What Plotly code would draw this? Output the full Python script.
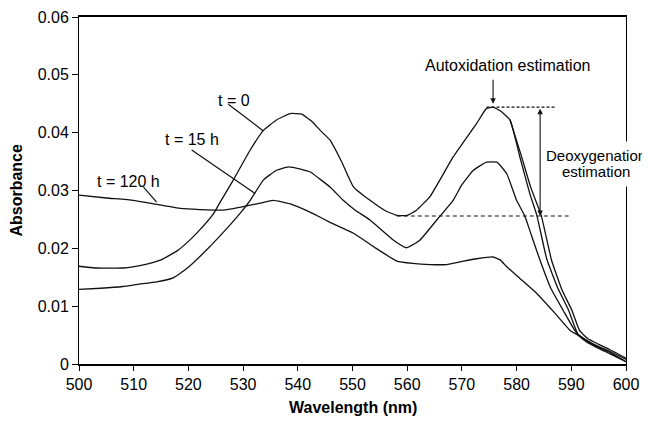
import plotly.graph_objects as go

# ---- data ----
wl_t0 = [500, 503, 508, 512, 515, 518, 520, 522, 524.6, 526, 528.2, 531.3, 533.7, 536.1, 538.6,
         540.7, 542.5, 544.1, 545.9, 548, 550.2, 553.2, 556, 558.1, 560, 561.7, 564.2, 568.4,
         572.7, 574.5, 575.7, 577, 578.8, 580.6, 582.4, 583.7, 585.5, 587.5, 589.5, 591.2,
         593, 595, 597, 600]
abs_t0 = [0.0169, 0.0166, 0.0166, 0.0172, 0.0180, 0.0196, 0.0212, 0.0231, 0.0260, 0.0283, 0.0318,
          0.0370, 0.0404, 0.0422, 0.0433, 0.0432, 0.0420, 0.0404, 0.0387, 0.0350, 0.0306, 0.0283,
          0.0265, 0.0257, 0.0257, 0.0266, 0.0290, 0.0358, 0.0416, 0.0442, 0.0444, 0.0438, 0.0422,
          0.0358, 0.0295, 0.0257, 0.0182, 0.0132, 0.0093, 0.0052, 0.0040, 0.0030, 0.0022, 0.0008]

wl_t0b = [578.8, 580.8, 582.6, 584.5, 586.4, 588.3, 590.1, 591.5, 593, 595, 597, 600]
abs_t0b = [0.0422, 0.0362, 0.0305, 0.0257, 0.0179, 0.0128, 0.0093, 0.0058, 0.0044, 0.0034,
           0.0025, 0.0010]

wl_t15 = [500, 504, 508, 511, 514.2, 517.2, 519.7, 523.3, 527, 529.4, 531.3, 533.7, 536.1, 538.3,
          540.5, 542.3, 544, 545.9, 548.3, 550.5, 553.2, 557.5, 559.9, 562.3, 565.4, 568.4, 570,
          572.1, 574.5, 576.4, 578.2, 580.0, 581.5, 582.8, 584.3, 586.3, 588.5, 590.5, 591.5,
          593, 595, 597, 600]
abs_t15 = [0.0129, 0.0131, 0.0134, 0.0138, 0.0142, 0.0149, 0.0165, 0.0197, 0.0234, 0.0260, 0.0283,
           0.0318, 0.0335, 0.0341, 0.0337, 0.0332, 0.0320, 0.0306, 0.0283, 0.0266, 0.0249, 0.0214,
           0.0201, 0.0214, 0.0249, 0.0283, 0.0310, 0.0335, 0.0349, 0.0349, 0.0329, 0.0283, 0.0256,
           0.0220, 0.0179, 0.0130, 0.0093, 0.0060, 0.0048, 0.0037, 0.0027, 0.0018, 0.0004]

wl_t120 = [500, 505, 509.9, 513.6, 516, 518.5, 522.1, 526.4, 529.4, 531.5, 533.1, 535.5, 538.6,
           540.5, 542.8, 545.9, 550.2, 554, 558.1, 561, 564.2, 567.2, 570.3, 572.7, 575.7, 577,
           578.2, 580.6, 583.7, 587, 589.8, 591.2, 594, 597, 600]
abs_t120 = [0.0292, 0.0287, 0.0283, 0.0277, 0.0273, 0.0269, 0.0267, 0.0266, 0.0271, 0.0275, 0.0278,
            0.0283, 0.0277, 0.0270, 0.0260, 0.0245, 0.0226, 0.0202, 0.0178, 0.0174, 0.0172, 0.0172,
            0.0178, 0.0182, 0.0185, 0.0180, 0.0168, 0.0148, 0.0122, 0.0088, 0.0058, 0.0050, 0.0033,
            0.0020, 0.0004]

x_ticks = [500, 510, 520, 530, 540, 550, 560, 570, 580, 590, 600]
y_ticks = [0, 0.01, 0.02, 0.03, 0.04, 0.05, 0.06]
y_ticktext = ["0", "0.01", "0.02", "0.03", "0.04", "0.05", "0.06"]
x_title = "Wavelength (nm)"
y_title = "Absorbance"

# labels: text, text position, pointer start, pointer end
curve_labels = ["t = 0", "t = 15 h", "t = 120 h"]
label_x = [528.4, 520.7, 509.0]
label_y = [0.0455, 0.0389, 0.0316]
ptr_x0 = [527.3, 520.6, 511.8]
ptr_y0 = [0.0449, 0.0370, 0.0306]
ptr_x1 = [533.7, 532.2, 514.2]
ptr_y1 = [0.0403, 0.0295, 0.0280]

# estimation markers
peak_level = 0.0444
base_level = 0.0256
peak_line_x = [574.5, 587.0]
base_line_x = [558.1, 589.5]
deoxy_arrow_x = 584.3
autox_arrow_x = 575.7
autox_arrow_y = [0.0494, 0.0450]
autox_text = ("Autoxidation estimation", 578.3, 0.0516)
deoxy_text = [("Deoxygenation", 594.5, 0.0361), ("estimation", 594.6, 0.0332)]
deoxy_box_center = (594.6, 0.03455)

FONT = "Liberation Sans, Arial, sans-serif"
FS = 16
LC = "#111111"

fig = go.Figure()
for xs, ys in [(wl_t0, abs_t0), (wl_t0b, abs_t0b), (wl_t15, abs_t15), (wl_t120, abs_t120)]:
    fig.add_trace(go.Scatter(x=xs, y=ys, mode="lines",
                             line=dict(color=LC, width=1.3, shape="spline", smoothing=0.4),
                             showlegend=False, hoverinfo="skip"))

# horizontal reference lines
fig.add_trace(go.Scatter(x=peak_line_x, y=[peak_level, peak_level], mode="lines",
                         line=dict(color=LC, width=1.3, dash="3px,2px"),
                         showlegend=False, hoverinfo="skip"))
fig.add_trace(go.Scatter(x=base_line_x, y=[base_level, base_level], mode="lines",
                         line=dict(color=LC, width=1.1, dash="4px,3px"),
                         showlegend=False, hoverinfo="skip"))

annotations = []
for t, lx, ly in zip(curve_labels, label_x, label_y):
    annotations.append(dict(x=lx, y=ly, xref="x", yref="y", text=t, showarrow=False,
                            font=dict(family=FONT, size=FS, color="#000")))
for x0, y0, x1, y1 in zip(ptr_x0, ptr_y0, ptr_x1, ptr_y1):
    fig.add_shape(type="line", x0=x0, y0=y0, x1=x1, y1=y1, xref="x", yref="y",
                  line=dict(color=LC, width=1.2))

annotations.append(dict(x=autox_text[1], y=autox_text[2], xref="x", yref="y", text=autox_text[0],
                        showarrow=False, font=dict(family=FONT, size=FS, color="#000")))
annotations.append(dict(x=autox_arrow_x, y=autox_arrow_y[1], ax=autox_arrow_x, ay=autox_arrow_y[0],
                        xref="x", yref="y", axref="x", ayref="y", text="", showarrow=True,
                        arrowhead=2, arrowsize=1, arrowwidth=1.1, arrowcolor=LC, standoff=0))
annotations.append(dict(x=deoxy_arrow_x, y=base_level, ax=deoxy_arrow_x, ay=peak_level,
                        xref="x", yref="y", axref="x", ayref="y", text="", showarrow=True,
                        arrowhead=2, startarrowhead=2, arrowside="end+start", arrowsize=1,
                        startarrowsize=1, arrowwidth=1.1, arrowcolor=LC, standoff=0, startstandoff=0))
# white backing that interrupts the right frame line behind the two-line label
annotations.append(dict(x=deoxy_box_center[0], y=deoxy_box_center[1], xref="x", yref="y",
                        text=" ", showarrow=False, width=96, height=44, bgcolor="white",
                        borderpad=0, font=dict(family=FONT, size=FS, color="#000")))
for t, tx, ty in deoxy_text:
    annotations.append(dict(x=tx, y=ty, xref="x", yref="y", text=t, showarrow=False,
                            font=dict(family=FONT, size=15, color="#000")))

# axis titles
annotations.append(dict(x=0.5, y=-0.124, xref="paper", yref="paper", text="<b>%s</b>" % x_title,
                        showarrow=False, xanchor="center", yanchor="middle",
                        font=dict(family=FONT, size=FS, color="#000")))
annotations.append(dict(x=-0.115, y=0.5, xref="paper", yref="paper", text="<b>%s</b>" % y_title,
                        showarrow=False, xanchor="center", yanchor="middle", textangle=-90,
                        font=dict(family=FONT, size=FS, color="#000")))

# page body has an 8px default margin; size the figure so the plot lands where the reference has it
fig.update_layout(
    width=642, height=408,
    margin=dict(l=71, r=24, t=9, b=52, autoexpand=False),
    paper_bgcolor="white", plot_bgcolor="white",
    font=dict(family=FONT, size=FS, color="#000"),
    annotations=annotations,
    xaxis=dict(range=[500, 600], tickvals=x_ticks, ticks="outside", ticklen=5, tickwidth=1,
               tickcolor="#000", showline=True, linecolor="#000", linewidth=2, mirror=True,
               showgrid=False, zeroline=False, automargin=False,
               tickfont=dict(family=FONT, size=FS, color="#000")),
    yaxis=dict(range=[0, 0.06], tickvals=y_ticks, ticktext=y_ticktext, ticks="outside",
               ticklen=6, tickwidth=1, tickcolor="#000", showline=True, linecolor="#000",
               linewidth=1, mirror=True, showgrid=False, zeroline=False, automargin=False,
               tickfont=dict(family=FONT, size=FS, color="#000")),
)

fig.write_html("out.html")
